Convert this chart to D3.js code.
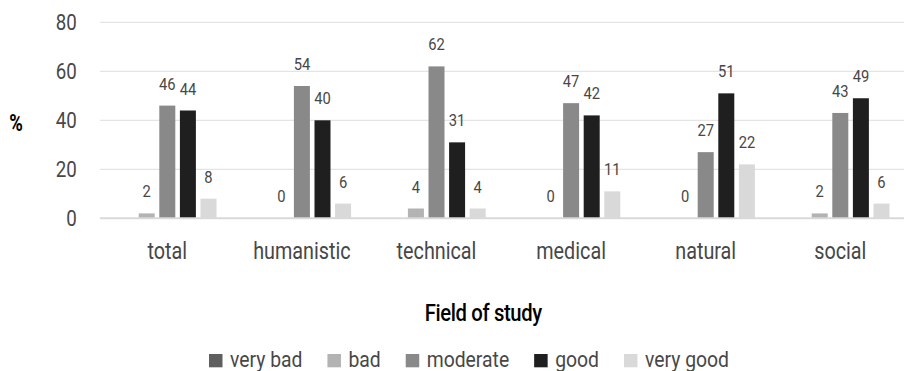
<!DOCTYPE html>
<html>
<head>
<meta charset="utf-8">
<script src="https://cdn.jsdelivr.net/npm/d3@7"></script>
<style>
  html, body { margin: 0; padding: 0; background: #fff; }
  svg { display: block; font-family: Roboto, "Noto Sans", sans-serif; }
</style>
</head>
<body>
<svg id="chart" width="904" height="371"></svg>
<script>
// Self-assessment by field of study (%)
const categories = ["total", "humanistic", "technical", "medical", "natural", "social"];
const seriesNames = ["very bad", "bad", "moderate", "good", "very good"];
const veryBad  = [null, null, null, null, null, null];
const bad      = [2, 0, 4, 0, 0, 2];
const moderate = [46, 54, 62, 47, 27, 43];
const good     = [44, 40, 31, 42, 51, 49];
const veryGood = [8, 6, 4, 11, 22, 6];
const yTicks = [0, 20, 40, 60, 80];
const seriesColors = ["#5f5f5f", "#b3b3b3", "#898989", "#1f1f1f", "#d9d9d9"];

const seriesValues = [veryBad, bad, moderate, good, veryGood];

const svg = d3.select("#chart");

const x0 = d3.scaleBand().domain(categories).range([100, 907.6])
  .paddingInner(0.235).paddingOuter(0.1175);
const x1 = d3.scaleBand().domain(seriesNames).range([0, x0.bandwidth()])
  .paddingInner(0.223).paddingOuter(0.1115);
const y = d3.scaleLinear().domain([0, 80]).range([218.3, 22.3]);

// text with narrowed glyphs (condensed look)
function label(g, x, yy, text, opts) {
  const sq = opts.squeeze || 0.87;
  return g.append("text")
    .attr("transform", `translate(${x},${yy}) scale(${sq},1)`)
    .attr("text-anchor", opts.anchor || "middle")
    .attr("font-size", opts.size)
    .attr("font-weight", opts.weight || 400)
    .attr("fill", opts.fill || "#474747")
    .text(text);
}

// gridlines
const grid = svg.append("g");
grid.selectAll("line").data(yTicks.filter(d => d !== 0)).join("line")
  .attr("x1", 100).attr("x2", 904)
  .attr("y1", d => y(d)).attr("y2", d => y(d))
  .attr("stroke", "#e4e4e4").attr("stroke-width", 1.2);

// y tick labels
const yAxis = svg.append("g");
yTicks.forEach(t => {
  label(yAxis, 76.7, y(t) + 7.6, String(t), { anchor: "end", size: 21.5 });
});

// bars
const rows = [];
seriesNames.forEach((s, si) => {
  categories.forEach((c, ci) => {
    const v = seriesValues[si][ci];
    if (v !== null) rows.push({ series: s, cat: c, value: v, color: seriesColors[si] });
  });
});

svg.append("g").selectAll("rect").data(rows).join("rect")
  .attr("x", d => x0(d.cat) + x1(d.series))
  .attr("width", x1.bandwidth())
  .attr("y", d => y(d.value))
  .attr("height", d => y(0) - y(d.value))
  .attr("fill", d => d.color);

// baseline
svg.append("line")
  .attr("x1", 100).attr("x2", 904)
  .attr("y1", y(0)).attr("y2", y(0))
  .attr("stroke", "#d9d9d9").attr("stroke-width", 2);

// value labels
const vl = svg.append("g");
rows.forEach(d => {
  label(vl, x0(d.cat) + x1(d.series) + x1.bandwidth() / 2, y(d.value) - 16,
    String(d.value), { size: 16, squeeze: 0.92 });
});

// category labels
const xl = svg.append("g");
categories.forEach(c => {
  label(xl, x0(c) + x0.bandwidth() / 2, 259, c, { size: 23, squeeze: 0.86 });
});

// axis titles
label(svg, 16, 131, "%", { size: 23, weight: 700, fill: "#000", squeeze: 0.8 });
label(svg, 483.3, 321, "Field of study", { size: 23, weight: 500, fill: "#000", squeeze: 0.88 })
  .attr("letter-spacing", -0.4);

// legend
const lg = svg.append("g");
let lx = 209;
seriesNames.forEach((s, i) => {
  lg.append("rect").attr("x", lx).attr("y", 354).attr("width", 13.5).attr("height", 13.3)
    .attr("fill", seriesColors[i]);
  const t = label(lg, lx + 21, 366.7, s, { anchor: "start", size: 22.5, squeeze: 0.86 });
  const w = t.node().getComputedTextLength() * 0.86;
  lx += 21 + w + 25;
});
</script>
</body>
</html>
